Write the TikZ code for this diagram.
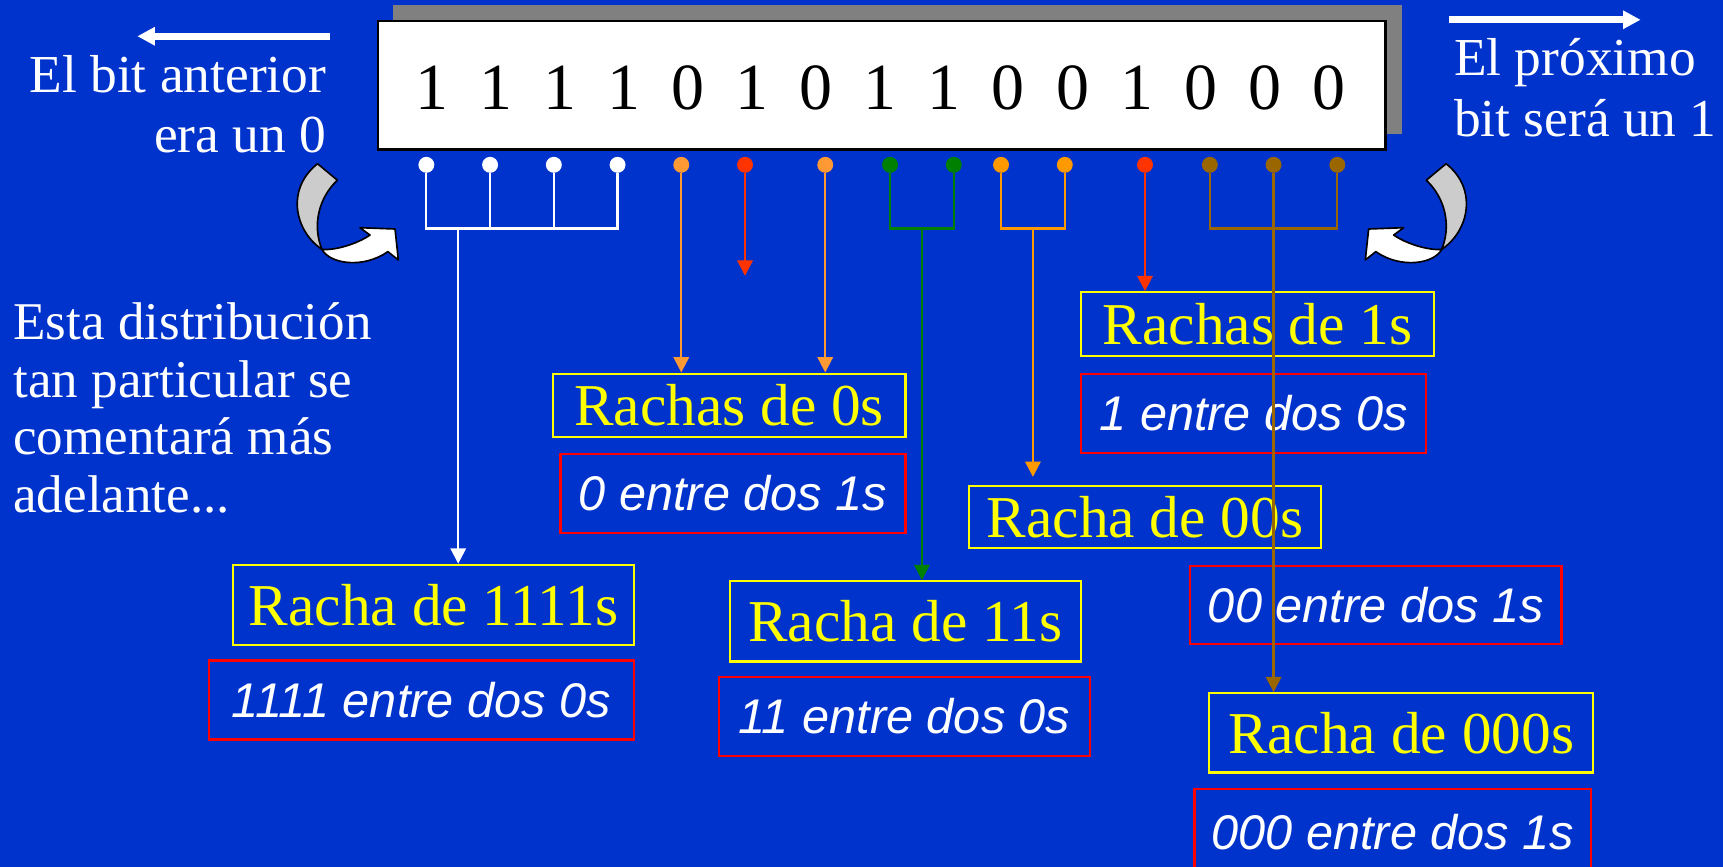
\documentclass[tikz,border=0pt]{standalone}
\usepackage{fontspec}
\setmainfont{Liberation Serif}
\setsansfont{Liberation Sans}
\usepackage{xcolor}
\definecolor{slideblue}{HTML}{0033CC}
\definecolor{shadowgray}{HTML}{808080}
\definecolor{curlgray}{HTML}{CCCCCC}
\definecolor{runorange}{HTML}{FF9933}
\definecolor{runamber}{HTML}{FF9900}
\definecolor{runred}{HTML}{FF3300}
\definecolor{rungreen}{HTML}{008000}
\definecolor{runbrown}{HTML}{996600}
\definecolor{boxyellow}{HTML}{FFFF00}
\definecolor{boxred}{HTML}{FF0000}
\usepackage{tikz}
\usetikzlibrary{arrows.meta}

% twisted arrow under the bit register (left one, mirrored for the right)
\newcommand{\curlarrow}{%
  \draw[curlline,fill=curlgray] (289,149) -- (307,164)
    .. controls (290,180) and (284,205) .. (293,227)
    .. controls (268,210) and (260,172) .. (289,149) -- cycle;
  \draw[curlline,fill=white] (293,227)
    .. controls (300,240) and (330,245) .. (353,229)
    -- (362.5,236.6) -- (359.5,208.4) -- (327.6,207.2) -- (336.7,213.9)
    .. controls (325,222) and (305,228) .. (293,227) -- cycle;
}

\tikzset{
  slidetext/.style={text=white,inner sep=0pt,font=\fontsize{48.6}{55}\selectfont},
  bitdigit/.style={inner sep=0pt,font=\fontsize{60}{70}\selectfont},
  bitdot/.style={circle,fill=#1,inner sep=0pt,minimum size=14.5pt},
  runline/.style={#1,line width=2pt},
  runarrow/.style={#1,line width=2pt,-{Triangle[length=14pt,width=14pt]}},
  bigarrow/.style={white,line width=6pt,-{Triangle[length=16pt,width=16pt]}},
  runbox/.style={draw=boxyellow,line width=2pt,text=boxyellow,inner sep=0pt,
    font=\fontsize{54}{60}\selectfont},
  notebox/.style={draw=boxred,line width=2pt,text=white,inner sep=0pt,
    font=\fontsize{44.3}{50}\sffamily\itshape},
  curlline/.style={draw=black,line width=1.5pt,line join=round},
}

\begin{document}
\begin{tikzpicture}[x=1pt,y=-1pt]
  \useasboundingbox (0,0) rectangle (1568,789);
  \fill[slideblue] (0,0) rectangle (1568,789);

  % Bit register
  \fill[shadowgray] (358,5) rectangle (1276,122);
  \node[draw=black,fill=white,line width=2.5pt,minimum width=917pt,
    minimum height=117pt,inner sep=0pt] (reg) at (802.5,77.5) {};
  \foreach \b [count=\i from 0] in {1,1,1,1,0,1,0,1,1,0,0,1,0,0,0}
    \node[bitdigit,anchor=base] (d\i) at (393+58.3*\i,100) {\b};

  \foreach \px/\col [count=\i] in {388/white,446/white,504/white,562/white,
      620/runorange,678/runred,751/runorange,810/rungreen,868/rungreen,
      911/runamber,969/runamber,1042/runred,1101/runbrown,1159/runbrown,1217/runbrown}
    \node[bitdot=\col] (p\i) at (\px,150) {};

  % Side notes
  \coordinate (prevtail) at (300,33);
  \coordinate (prevhead) at (125,33);
  \draw[bigarrow] (prevtail) -- (prevhead);
  \node[slidetext,align=right,anchor=north east] (prevbit) at (297,50)
    {El bit anterior\\era un 0};
  \coordinate (nexttail) at (1319,18);
  \coordinate (nexthead) at (1493,18);
  \draw[bigarrow] (nexttail) -- (nexthead);
  \node[slidetext,align=left,anchor=north west] (nextbit) at (1323,35)
    {El próximo\\bit será un 1};
  \node[slidetext,align=left,anchor=north west,font=\fontsize{48.3}{52.6}\selectfont]
    (remark) at (12,275) {Esta distribución\\tan particular se\\comentará más\\adelante...};

  \curlarrow
  \begin{scope}[xshift=1605pt,xscale=-1]
    \curlarrow
  \end{scope}

  % Runs
  \node[runbox,minimum width=365pt,minimum height=73pt] (y1) at (394.5,550.5) {Racha de 1111s};
  \node[notebox,minimum width=387pt,minimum height=72pt] (r1) at (383.5,637) {1111 entre dos 0s};
  \node[runbox,minimum width=321pt,minimum height=58pt] (y2) at (663.5,369) {Rachas de 0s};
  \node[notebox,minimum width=314pt,minimum height=72pt] (r2) at (667,449) {0 entre dos 1s};
  \node[runbox,minimum width=320pt,minimum height=73pt] (y3) at (824,565.5) {Racha de 11s};
  \node[notebox,minimum width=338pt,minimum height=72pt] (r3) at (823,652) {11 entre dos 0s};
  \node[runbox,minimum width=320pt,minimum height=57pt] (y4) at (1042,470.5) {Racha de 00s};
  \node[notebox,minimum width=338pt,minimum height=71pt] (r4) at (1252,550.5) {00 entre dos 1s};
  \node[runbox,minimum width=321pt,minimum height=58pt] (y5) at (1144.5,295) {Rachas de 1s};
  \node[notebox,minimum width=314pt,minimum height=72pt] (r5) at (1141,376) {1 entre dos 0s};
  \node[runbox,minimum width=350pt,minimum height=72pt] (y6) at (1275,667) {Racha de 000s};
  \node[notebox,minimum width=361pt,minimum height=78pt] (r6) at (1267.5,757) {000 entre dos 1s};

  % 1111
  \coordinate (jw) at (417,208);
  \draw[runline=white] (p1) -- (p1 |- jw) -- (p4 |- jw) -- (p4);
  \draw[runline=white] (p2) -- (p2 |- jw);
  \draw[runline=white] (p3) -- (p3 |- jw);
  \draw[runarrow=white] (jw) -- (jw |- y1.north);
  % 0 and 0
  \draw[runarrow=runorange] (p5) -- (p5 |- y2.north);
  \draw[runarrow=runorange] (p7) -- (p7 |- y2.north);
  % 1
  \coordinate (rstop) at (678,251);
  \draw[runarrow=runred] (p6) -- (rstop);
  % 11
  \coordinate (jg) at (839,208);
  \draw[runline=rungreen] (p8) -- (p8 |- jg) -- (p9 |- jg) -- (p9);
  \draw[runarrow=rungreen] (jg) -- (jg |- y3.north);
  % 00
  \coordinate (ja) at (940,208);
  \coordinate (astop) at (940,434);
  \draw[runline=runamber] (p10) -- (p10 |- ja) -- (p11 |- ja) -- (p11);
  \draw[runarrow=runamber] (ja) -- (astop);
  % 1
  \draw[runarrow=runred] (p12) -- (p12 |- y5.north);
  % 000
  \coordinate (jb) at (1159,208);
  \draw[runline=runbrown] (p13) -- (p13 |- jb) -- (p15 |- jb) -- (p15);
  \draw[runarrow=runbrown] (p14) -- (p14 |- y6.north);
\end{tikzpicture}
\end{document}
